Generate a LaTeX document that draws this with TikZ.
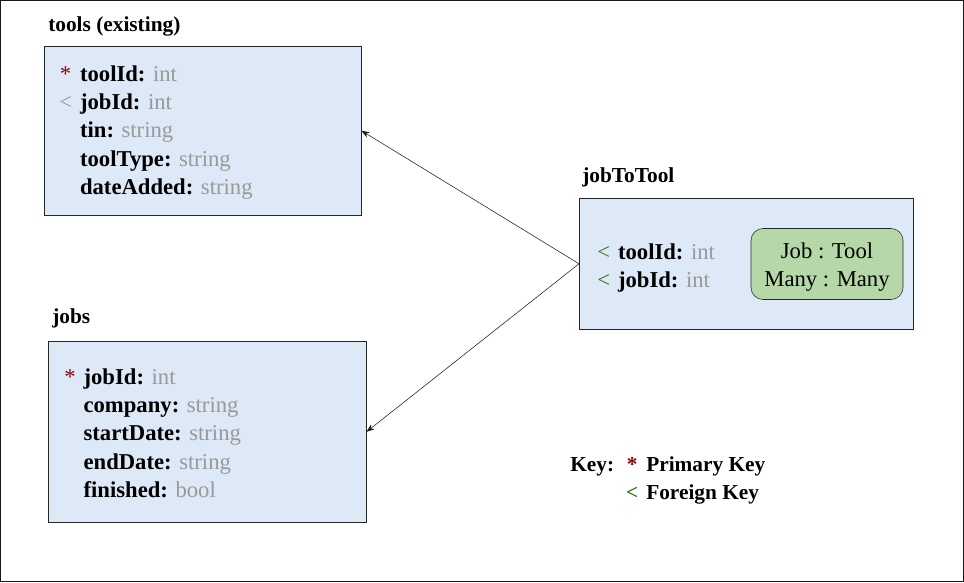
\documentclass[tikz,border=0pt]{standalone}
\usepackage{fontspec}
\setmainfont{Liberation Serif}
\usepackage{xcolor}
\usetikzlibrary{arrows.meta,positioning}

\definecolor{tablefill}{HTML}{DDE9F6}
\definecolor{notefill}{HTML}{B6D7A8}
\definecolor{typegray}{HTML}{999999}
\definecolor{pkred}{HTML}{990000}
\definecolor{fkgreen}{HTML}{38761D}

\newcommand{\fld}[2]{\textbf{#1:} \textcolor{typegray}{#2}}
\newcommand{\pkmark}{\textcolor{pkred}{*}}
\newcommand{\fkmark}[1][fkgreen]{\textcolor{#1}{<}}

\begin{document}
\begin{tikzpicture}[x=0.75pt,y=-0.75pt,
    table/.style={draw=black!85, fill=tablefill, anchor=north west, inner sep=0pt},
    title/.style={anchor=base west, inner sep=0pt, font=\fontsize{16}{21.3}\selectfont\bfseries},
    rows/.style={anchor=base west, inner sep=0pt},
    every node/.style={font=\fontsize{17}{21.3}\selectfont},
    >={Stealth[length=6pt,width=4.5pt]}]
    \useasboundingbox (0,0) rectangle (964,582);
    \draw[black!90] (0.5,0.5) rectangle (963.5,581.5);

    % tables
    \node[table, minimum width={317*0.75pt}, minimum height={169*0.75pt}] (tools) at (44,46) {};
    \node[table, minimum width={318*0.75pt}, minimum height={181*0.75pt}] (jobs) at (48,341) {};
    \node[table, minimum width={334*0.75pt}, minimum height={131*0.75pt}] (link) at (579,198) {};

    \node[title] (toolsTitle) at (48,31) {tools (existing)};
    \node[title] (jobsTitle) at (52,323) {jobs};
    \node[title] (linkTitle) at (582,182) {jobToTool};

    \node[rows] (toolsRows) at (59,81) {\begin{tabular}[t]{@{}c@{\hspace{6pt}}l@{}}
        \pkmark & \fld{toolId}{int}\\
        \fkmark[typegray] & \fld{jobId}{int}\\
        & \fld{tin}{string}\\
        & \fld{toolType}{string}\\
        & \fld{dateAdded}{string}
    \end{tabular}};
    \node[rows] (jobsRows) at (64,384) {\begin{tabular}[t]{@{}c@{\hspace{6pt}}l@{}}
        \pkmark & \fld{jobId}{int}\\
        & \fld{company}{string}\\
        & \fld{startDate}{string}\\
        & \fld{endDate}{string}\\
        & \fld{finished}{bool}
    \end{tabular}};
    \node[rows] (linkRows) at (597,259) {\begin{tabular}[t]{@{}c@{\hspace{6pt}}l@{}}
        \fkmark & \fld{toolId}{int}\\
        \fkmark & \fld{jobId}{int}
    \end{tabular}};

    \node[draw=black!85, fill=notefill, rounded corners=9pt, minimum width={152*0.75pt},
        minimum height={71*0.75pt}] (ratio) at (827,264) {};
    \node[align=center, inner sep=0pt] (ratioText) at (827,267) {Job : Tool\\Many : Many};

    % key
    \node[rows, font=\fontsize{16}{21.3}\selectfont\bfseries] (key) at (570,471) {\begin{tabular}[t]{@{}l@{\hspace{9pt}}c@{\hspace{6pt}}l@{}}
        Key: & \pkmark & Primary Key\\
        & \fkmark & Foreign Key
    \end{tabular}};

    \draw[->, black!90] (link.west) -- (tools.east);
    \draw[->, black!90] (link.west) -- (jobs.east);
\end{tikzpicture}
\end{document}
